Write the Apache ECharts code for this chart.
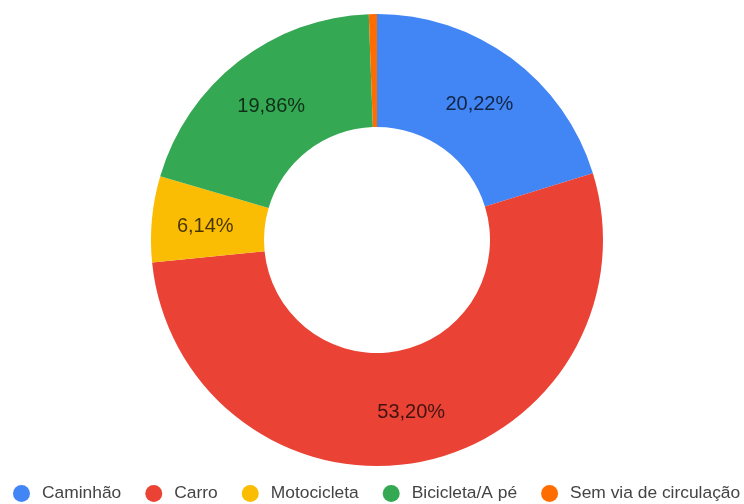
<!DOCTYPE html>
<html>
<head>
<meta charset="utf-8">
<script src="https://cdn.jsdelivr.net/npm/echarts@6/dist/echarts.min.js"></script>
<style>
  html, body { margin: 0; padding: 0; background: #fff; }
  #chart { width: 744px; height: 504px; }
</style>
</head>
<body>
<div id="chart"></div>
<script>
// Share of each transport category (percent)
const categories = ['Caminhão', 'Carro', 'Motocicleta', 'Bicicleta/A pé', 'Sem via de circulação'];
const shares = [20.22, 53.20, 6.14, 19.86, 0.58];
const colors = ['#4285F4', '#EA4335', '#FBBC04', '#34A853', '#FF6D01'];

// Slices this thin carry no label
const minLabelShare = 1;

const fmt = v => v.toFixed(2).replace('.', ',') + '%';

const chart = echarts.init(document.getElementById('chart'), null, { renderer: 'canvas' });

chart.setOption({
  animation: false,
  color: colors,
  legend: {
    data: categories,
    left: 13,
    top: 485,
    width: 760,
    padding: 0,
    icon: 'circle',
    itemWidth: 17,
    itemHeight: 17,
    itemGap: 24,
    selectedMode: false,
    textStyle: {
      fontFamily: 'Liberation Sans, Arial, sans-serif',
      fontSize: 17.4,
      color: '#444',
      padding: [0, 0, 0, 7]
    }
  },
  series: [{
    type: 'pie',
    center: [377, 240],
    radius: [113, 226],
    startAngle: 90,
    clockwise: true,
    avoidLabelOverlap: false,
    label: {
      show: true,
      position: 'inside',
      formatter: p => fmt(p.value),
      fontFamily: 'Liberation Sans, Arial, sans-serif',
      fontSize: 20,
      color: 'rgba(0,0,0,0.72)',
      offset: [0, 3]
    },
    labelLine: { show: false },
    emphasis: { disabled: true },
    itemStyle: { borderWidth: 0 },
    data: categories.map((name, i) => ({
      name: name,
      value: shares[i],
      label: { show: shares[i] >= minLabelShare }
    }))
  }]
});
</script>
</body>
</html>
